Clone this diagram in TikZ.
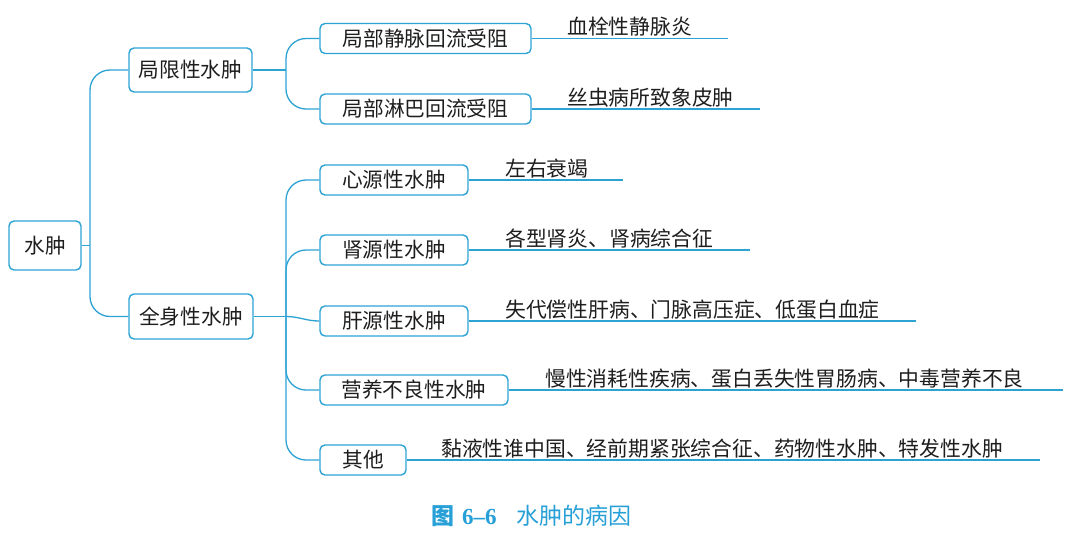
\documentclass[tikz,border=0pt]{standalone}
\usepackage{fontspec}
\newfontfamily\cjk{Noto Sans CJK SC}
\newfontfamily\numf{Liberation Serif}
\definecolor{lc}{RGB}{45,163,212}
\definecolor{capc}{RGB}{38,160,215}
\definecolor{txt}{RGB}{30,30,30}
\tikzset{
  box/.style={draw=lc, line width=1.4pt, rounded corners=5pt, fill=white, text=txt,
    font=\cjk\fontsize{20.7}{24}\selectfont, inner sep=0pt, align=center, minimum height=30pt},
  conn/.style={draw=lc, line width=1.3pt},
  curvy/.style={conn, rounded corners=20pt},
  leaf/.style={font=\cjk\fontsize{20.8}{24}\selectfont, text=txt, inner sep=0pt, anchor=base west},
}
\begin{document}
\begin{tikzpicture}[x=1pt,y=-1pt]
\fill[white] (0,0) rectangle (1068,539);
\useasboundingbox (0,0) rectangle (1068,539);

% boxes
\node[box, minimum width=72pt, minimum height=49pt] (root) at (45,245.5) {水肿};
\node[box, minimum width=123pt, minimum height=44pt] (loc) at (190.5,70) {局限性水肿};
\node[box, minimum width=124pt, minimum height=45pt] (whole) at (191,316.5) {全身性水肿};

\node[box, minimum width=211pt] (c1) at (425.5,38.5) {局部静脉回流受阻};
\node[box, minimum width=211pt] (c2) at (425.5,109) {局部淋巴回流受阻};

\node[box, minimum width=148pt] (g1) at (394,180) {心源性水肿};
\node[box, minimum width=148pt] (g2) at (394,250) {肾源性水肿};
\node[box, minimum width=148pt] (g3) at (394,321) {肝源性水肿};
\node[box, minimum width=188pt] (g4) at (414,390) {营养不良性水肿};
\node[box, minimum width=86pt] (g5) at (363,460) {其他};

% junctions
\coordinate (j0) at (90,245.5);
\coordinate (j1) at (286,70);
\coordinate (j2) at (286,316.5);

\draw[conn] (root.east) -- (j0);
\draw[curvy] (j0) |- (loc.west);
\draw[curvy] (j0) |- (whole.west);

\draw[conn] (loc.east) -- (j1);
\draw[curvy] (j1) |- (c1.west);
\draw[curvy] (j1) |- (c2.west);

\draw[conn] (whole.east) -- (j2);
\draw[curvy] (j2) |- (g1.west);
\draw[curvy] (j2) |- (g2.west);
\draw[conn] (j2) to[out=0,in=180] (g3.west);
\draw[curvy] (j2) |- (g4.west);
\draw[curvy] (j2) |- (g5.west);

% leaf lines
\coordinate (e1) at (728,38.5);
\coordinate (e2) at (760,109);
\coordinate (f1) at (623,180);
\coordinate (f2) at (750,250);
\coordinate (f3) at (916,321);
\coordinate (f4) at (1063,390);
\coordinate (f5) at (1040,460);
\draw[conn] (c1.east) -- (e1);
\draw[conn] (c2.east) -- (e2);
\draw[conn] (g1.east) -- (f1);
\draw[conn] (g2.east) -- (f2);
\draw[conn] (g3.east) -- (f3);
\draw[conn] (g4.east) -- (f4);
\draw[conn] (g5.east) -- (f5);

% leaf texts
\node[leaf] (t1) at (567,34.5) {血栓性静脉炎};
\node[leaf] (t2) at (567,105) {丝虫病所致象皮肿};
\node[leaf] (u1) at (505,176) {左右衰竭};
\node[leaf] (u2) at (505,246) {各型肾炎、肾病综合征};
\node[leaf] (u3) at (505,317) {失代偿性肝病、门脉高压症、低蛋白血症};
\node[leaf] (u4) at (545,386) {慢性消耗性疾病、蛋白丢失性胃肠病、中毒营养不良};
\node[leaf] (u5) at (441,456) {黏液性谁中国、经前期紧张综合征、药物性水肿、特发性水肿};

% caption
\node[anchor=west, inner sep=0pt, text=capc, font=\fontsize{23}{26}\selectfont] (cap) at (431,516)
  {{\cjk\bfseries 图}\hspace{8pt}{\numf\bfseries 6–6}\hspace{20pt}{\cjk 水肿的病因}};
\end{tikzpicture}
\end{document}
